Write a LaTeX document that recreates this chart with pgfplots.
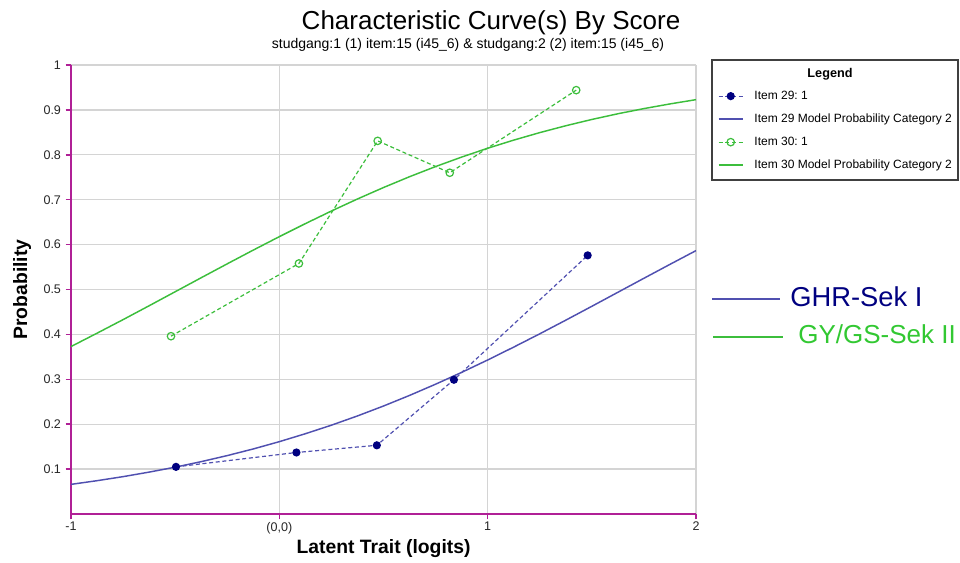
\documentclass[border=0pt]{standalone}
\usepackage{pgfplots}
\pgfplotsset{compat=1.18}
\usepackage{fontspec}
\setmainfont{Liberation Sans}
\frenchspacing
\definecolor{axmag}{RGB}{176,32,150}
\definecolor{navyd}{RGB}{0,0,128}
\definecolor{bluel}{RGB}{80,80,176}
\definecolor{greenl}{RGB}{60,190,60}
\definecolor{greent}{RGB}{50,200,50}
\definecolor{gridc}{RGB}{212,212,212}
\begin{document}
\begin{tikzpicture}
\begin{scope}[x=0.75pt,y=-0.75pt]
\useasboundingbox (0,0) rectangle (960,559);
\end{scope}
\begin{axis}[
  at={(53.25pt,-385.5pt)}, anchor=south west,
  scale only axis, width=468.75pt, height=336.75pt,
  xmin=-1, xmax=2, ymin=0, ymax=1,
  axis lines*=left,
  axis line style={-, draw=axmag, line width=2pt},
  xtick={-1,0,1,2}, xticklabels={-1,(0,0),1,2},
  ytick={0.1,0.2,0.3,0.4,0.5,0.6,0.7,0.8,0.9,1},
  yticklabels={0.1,0.2,0.3,0.4,0.5,0.6,0.7,0.8,0.9,1},
  grid=major, major grid style={draw=gridc, line width=1pt},
  tick style={draw=axmag, line width=1.2pt},
  tick align=outside, major tick length=4pt,
  ticklabel style={font=\fontsize{9.4}{11}\selectfont, text=black!85},
  xticklabel style={yshift=1.5pt},
  xlabel={Latent Trait (logits)}, ylabel={Probability},
  label style={font=\fontsize{14.5}{17}\selectfont\bfseries},
  xlabel style={at={(axis description cs:0.5,-0.078)}, anchor=center},
  ylabel style={at={(axis description cs:-0.078,0.5)}, anchor=center},
  legend image code/.code={\draw[mark repeat=2,mark phase=2,#1] plot coordinates {(0pt,0pt) (9pt,0pt) (18pt,0pt)};},
  legend cell align=left,
  legend style={at={(axis description cs:1.0352,0.944)}, anchor=north west,
    draw=none, fill=none, inner sep=0pt, outer sep=0pt,
    row sep=8.25pt, font=\fontsize{9}{10}\selectfont,
    nodes={inner sep=0pt, text height=7pt, text depth=2pt},
    /tikz/every odd column/.append style={column sep=8.25pt}},
]
\addplot[bluel, line width=0.9pt, densely dashed, mark=*, mark size=2.6pt,
  mark options={solid, fill=navyd, draw=navyd}] coordinates {
  (-0.496,0.105) (0.082,0.137) (0.468,0.153) (0.838,0.299) (1.480,0.576)};
\addlegendentry{Item 29: 1}
\addplot[draw=bluel, line width=1.1pt, solid, mark=none] coordinates {
  (-1,0.0660) (-0.875,0.0742) (-0.75,0.0832) (-0.625,0.0933) (-0.5,0.1043)
  (-0.375,0.1166) (-0.25,0.1301) (-0.125,0.1449) (0,0.1611) (0.125,0.1788)
  (0.25,0.1978) (0.375,0.2184) (0.5,0.2405) (0.625,0.2641) (0.75,0.2891)
  (0.875,0.3154) (1,0.3430) (1.125,0.3717) (1.25,0.4013) (1.375,0.4317)
  (1.5,0.4626) (1.625,0.4938) (1.75,0.5250) (1.875,0.5560) (2,0.5866)};
\addlegendentry{Item 29 Model Probability Category 2}
\addplot[greenl, line width=0.9pt, densely dashed, mark=o, mark size=2.8pt,
  mark options={solid, draw=greenl, line width=0.9pt}] coordinates {
  (-0.520,0.396) (0.094,0.558) (0.472,0.831) (0.818,0.760) (1.425,0.944)};
\addlegendentry{Item 30: 1}
\addplot[draw=greenl, line width=1.1pt, solid, mark=none] coordinates {
  (-1,0.3729) (-0.875,0.4027) (-0.75,0.4329) (-0.625,0.4638) (-0.5,0.4950)
  (-0.375,0.5262) (-0.25,0.5572) (-0.125,0.5878) (0,0.6177) (0.125,0.6467)
  (0.25,0.6748) (0.375,0.7016) (0.5,0.7271) (0.625,0.7512) (0.75,0.7738)
  (0.875,0.7949) (1,0.8146) (1.125,0.8327) (1.25,0.8494) (1.375,0.8647)
  (1.5,0.8787) (1.625,0.8914) (1.75,0.9029) (1.875,0.9133) (2,0.9228)};
\addlegendentry{Item 30 Model Probability Category 2}
\end{axis}
\begin{scope}[x=0.75pt,y=-0.75pt]
\node[anchor=base, inner sep=0pt, font=\fontsize{19.5}{23}\selectfont] at (491,30) {Characteristic Curve(s) By Score};
\node[anchor=base, inner sep=0pt, font=\fontsize{10.5}{12}\selectfont] at (468,49) {studgang:1 (1) item:15 (i45\_6) \& studgang:2 (2) item:15 (i45\_6)};
\draw[black!75, line width=0.8pt] (712,60) rectangle (958,180);
\node[anchor=base, inner sep=0pt, font=\bfseries\fontsize{9.5}{11}\selectfont] at (830,78) {Legend};
\draw[bluel, line width=1pt] (712,299) -- (780,299);
\node[anchor=base west, inner sep=0pt, text=navyd, font=\fontsize{20.5}{24}\selectfont] at (790,307) {GHR-Sek I};
\draw[greenl, line width=1pt] (713,337) -- (783,337);
\node[anchor=base west, inner sep=0pt, text=greent, font=\fontsize{19.5}{23}\selectfont] at (798,344) {GY/GS-Sek II};
\end{scope}
\end{tikzpicture}
\end{document}
